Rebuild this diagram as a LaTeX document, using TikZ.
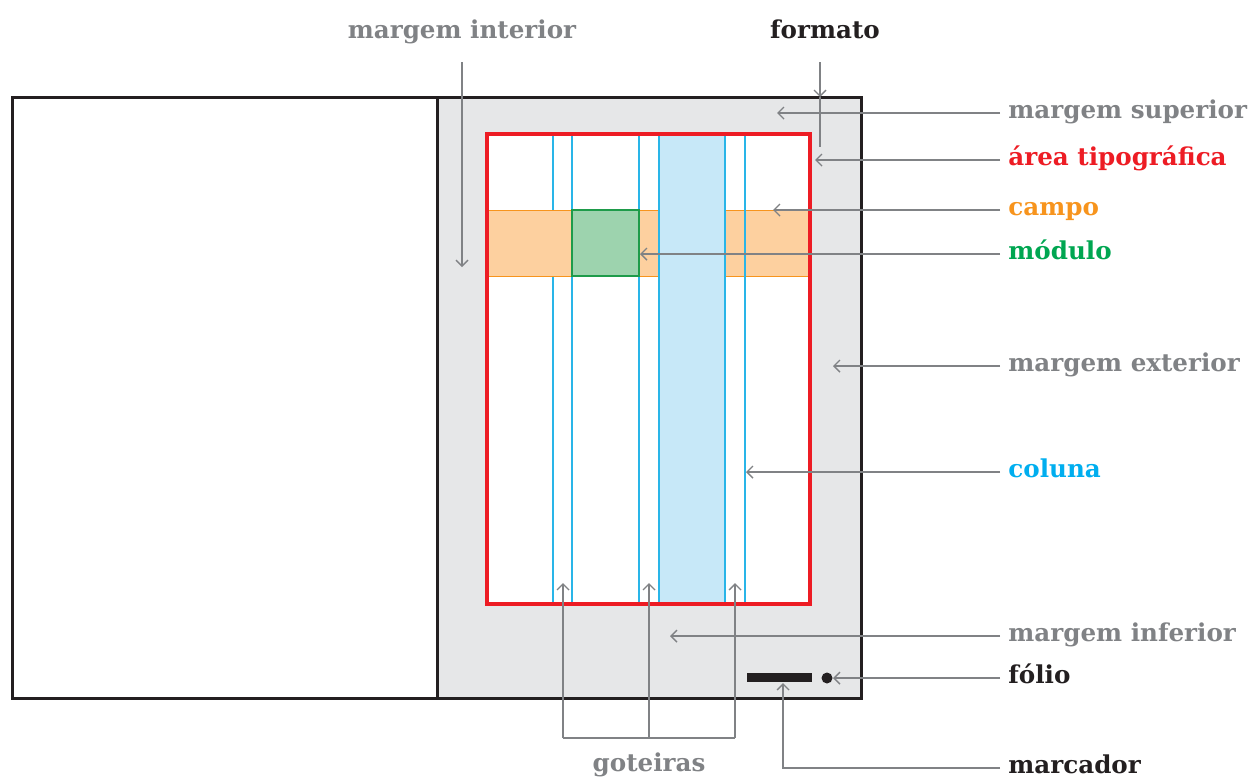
\documentclass[tikz,border=0pt]{standalone}
\usepackage{fontspec}
\setmainfont{DejaVu Serif}
\usetikzlibrary{arrows.meta}
\definecolor{pagegray}{HTML}{E6E7E8}
\definecolor{labelgray}{HTML}{808285}
\definecolor{typored}{HTML}{ED1C24}
\definecolor{campoorange}{HTML}{F7941D}
\definecolor{campofill}{HTML}{FDD09F}
\definecolor{modgreen}{HTML}{00A651}
\definecolor{modline}{HTML}{1E9B4A}
\definecolor{modfill}{HTML}{9DD3AE}
\definecolor{colblue}{HTML}{00AEEF}
\definecolor{colline}{HTML}{29B5E8}
\definecolor{colfill}{HTML}{C7E8F8}
\definecolor{inkblack}{HTML}{231F20}
\tikzset{
  pointer/.style={draw=labelgray, line width=0.7pt, -{Straight Barb[length=3pt,width=6pt]}},
  lbl/.style={font=\bfseries\fontsize{12.3}{14}\selectfont, inner xsep=4pt, inner ysep=0pt, anchor=mid west},
  toplbl/.style={font=\bfseries\fontsize{12.3}{14}\selectfont, inner sep=0pt, anchor=base},
}
\begin{document}
\begin{tikzpicture}[x=0.5pt,y=-0.5pt]
\useasboundingbox (0,0) rectangle (1248,778);
\draw[inkblack, line width=1.5pt] (12,97) rectangle (437,698);
\draw[inkblack, line width=1.5pt, fill=pagegray] (437,97) rectangle (861,698);
\fill[white] (487,134) rectangle (810,604);
\foreach \x in {553,572,639}
  \draw[colline, line width=0.8pt] (\x,134) -- (\x,604);
\draw[campoorange, fill=campofill, line width=0.5pt] (487,210) rectangle (810,276);
\draw[modline, fill=modfill, line width=0.6pt] (572,210) rectangle (639,276);
\fill[colfill] (659,134) rectangle (725,604);
\foreach \x in {659,725,745}
  \draw[colline, line width=0.8pt] (\x,134) -- (\x,604);
\draw[typored, line width=1.8pt] (487,134) rectangle (810,604);
\fill[inkblack] (747,673) rectangle (812,682);
\fill[inkblack] (827,678) circle[radius=5.5];

\foreach \name/\y/\tip/\c/\txt in {msup/113/777/labelgray/margem superior,
                                  atip/160/815/typored/área tipográfica,
                                  campo/210/773/campoorange/campo,
                                  modulo/254/640/modgreen/módulo,
                                  mext/366/833/labelgray/margem exterior,
                                  coluna/472/746/colblue/coluna,
                                  minf/636/670/labelgray/margem inferior,
                                  folio/678/833/inkblack/fólio}
  {\node[lbl, text=\c] (\name) at (1000,\y) {\txt};
   \coordinate (\name tip) at (\tip,\y);
   \draw[pointer] (\name.mid west) -- (\name tip);}

\node[lbl, text=inkblack] (marc) at (1000,768) {marcador};
\coordinate (marc tip) at (783,683);
\draw[pointer] (marc.mid west) -| (marc tip);

\node[toplbl, text=labelgray] (mint) at (462,38) {margem interior};
\coordinate (mint tip) at (462,267);
\draw[pointer, shorten <=12pt] (mint.base) -- (mint tip);

\node[toplbl, text=inkblack] (fmt) at (825,38) {formato};
\coordinate (fmt tip) at (820,97);
\draw[pointer, shorten <=12pt] (fmt tip |- fmt.base) -- (fmt tip);
\draw[labelgray, line width=0.7pt] (fmt tip) -- (820,147);

\node[lbl, anchor=mid, text=labelgray] (got) at (649,766) {goteiras};
\coordinate (gbar) at (649,738);
\foreach \i/\x in {1/563,2/649,3/735}
  {\coordinate (gt\i) at (\x,583);
   \draw[pointer] (gt\i |- gbar) -- (gt\i);}
\draw[labelgray, line width=0.7pt] (gt1 |- gbar) -- (gt3 |- gbar);
\end{tikzpicture}
\end{document}
